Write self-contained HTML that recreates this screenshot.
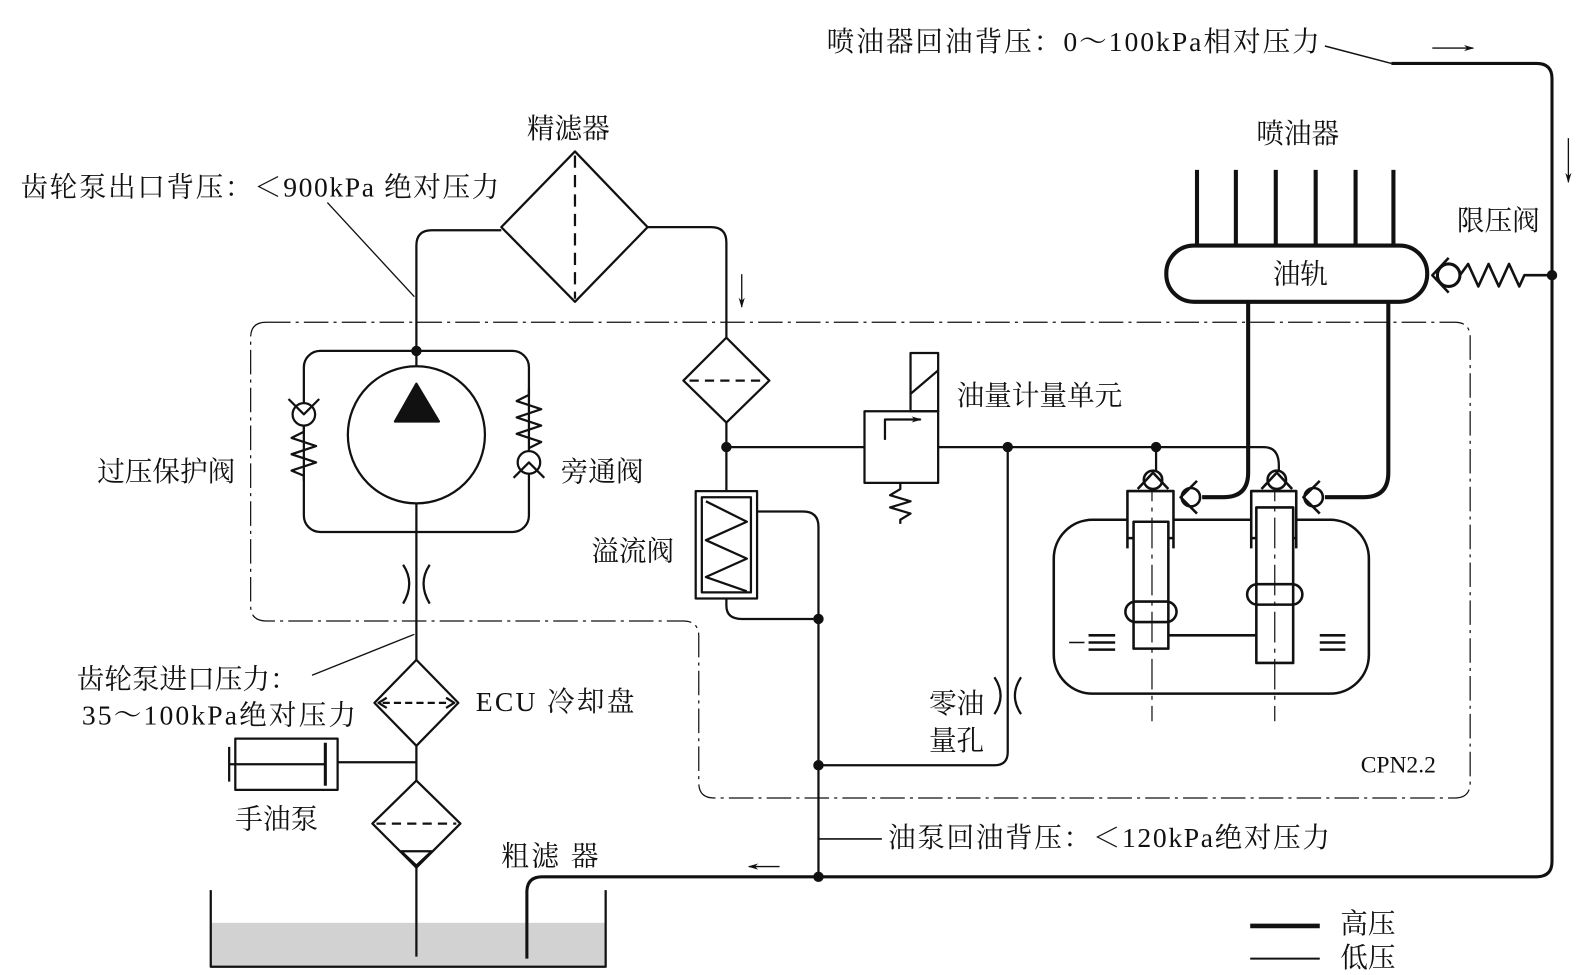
<!DOCTYPE html>
<html><head><meta charset="utf-8"><style>
html,body{margin:0;padding:0;background:#fff;}
svg{display:block;}
text{font-family:"Liberation Serif","Noto Serif CJK SC",serif;font-size:27px;fill:#111;}
</style></head><body>
<svg width="1596" height="975" viewBox="0 0 1560 953" xmlns="http://www.w3.org/2000/svg">
<defs><marker id="ah" markerWidth="10" markerHeight="8" refX="9" refY="4" orient="auto" markerUnits="userSpaceOnUse"><path d="M0,1 L10,4 L0,7 L3,4Z" fill="#111"/></marker></defs>
<g fill="none" stroke="#111" stroke-width="2.2" stroke-linejoin="round">
<rect x="206" y="902" width="386" height="43" fill="#d2d2d2" stroke="none"/>
<path d="M206,870 V945 H592 V870"/>
<path d="M1295,45 L1360,62" stroke-width="1.5"/>
<path d="M1360,62 H1502 Q1517,62 1517,77 V842 Q1517,857 1502,857 H530 Q515,857 515,872 V937" stroke-width="3"/>
<line x1="1400" y1="47" x2="1440" y2="47" stroke-width="1.3" marker-end="url(#ah)"/>
<line x1="1533" y1="135" x2="1533" y2="178" stroke-width="1.3" marker-end="url(#ah)"/>
<line x1="762" y1="847" x2="732" y2="847" stroke-width="1.3" marker-end="url(#ah)"/>
<line x1="725" y1="268" x2="725" y2="300" stroke-width="1.3" marker-end="url(#ah)"/>
<path d="M260,315 H1422 Q1437,315 1437,330 V765 Q1437,780 1422,780 H698 Q683,780 683,765 V622 Q683,607 668,607 H260 Q245,607 245,592 V330 Q245,315 260,315Z" stroke-width="1.2" stroke-dasharray="24 5 3 5"/>
<line x1="407" y1="935" x2="407" y2="848"/>
<path d="M407,763 L450,805 L407,848 L364,805Z"/>
<line x1="368" y1="805" x2="446" y2="805" stroke-dasharray="9 6"/>
<path d="M392,832 H422 L407,846Z"/>
<line x1="407" y1="763" x2="407" y2="729"/>
<line x1="330" y1="745" x2="407" y2="745"/>
<rect x="230" y="722" width="100" height="50"/>
<line x1="318" y1="726" x2="318" y2="768" stroke-width="3"/>
<line x1="224" y1="747" x2="318" y2="747"/>
<line x1="224" y1="730" x2="224" y2="764"/>
<path d="M407,645 L448,687 L407,729 L366,687Z"/>
<line x1="374" y1="687" x2="440" y2="687" stroke-dasharray="7 4"/>
<path d="M378,682 L370,687 L378,692 M436,682 L444,687 L436,692"/>
<line x1="407" y1="645" x2="407" y2="492"/>
<path d="M394,552 Q406,570 394,590 M420,552 Q408,570 420,590"/>
<rect x="297" y="343" width="220" height="177" rx="16"/>
<circle cx="407" cy="425" r="67"/>
<path d="M407,375 L386,412 L429,412Z" fill="#111"/>
<line x1="407" y1="343" x2="407" y2="358"/>
<circle cx="407" cy="343" r="4" fill="#111"/>
<circle cx="297" cy="405" r="11" fill="#fff"/>
<path d="M282,390 L297,405 L312,390"/>
<path d="M297,416 V422 L285,428 L309,436 L285,444 L309,452 L285,460 L297,465 V470"/>
<path d="M517,380 V386 L505,392 L529,400 L505,408 L529,416 L505,424 L529,432 L517,438"/>
<circle cx="517" cy="452" r="11" fill="#fff"/>
<path d="M502,467 L517,452 L532,467"/>
<path d="M407,343 V240 Q407,225 422,225 H490"/>
<path d="M562,148 L633,222 L562,295 L490,222Z"/>
<line x1="562" y1="152" x2="562" y2="292" stroke-dasharray="12 7"/>
<path d="M633,222 H695 Q710,222 710,237 V330"/>
<path d="M710,330 L752,372 L710,413 L668,372Z"/>
<line x1="674" y1="372" x2="746" y2="372" stroke-dasharray="9 6"/>
<line x1="710" y1="413" x2="710" y2="480"/>
<circle cx="710" cy="437" r="4" fill="#111"/>
<line x1="710" y1="437" x2="845" y2="437"/>
<rect x="845" y="402" width="72" height="70"/>
<rect x="890" y="345" width="27" height="57"/>
<line x1="890" y1="385" x2="917" y2="362"/>
<path d="M865,430 V410 H900" marker-end="url(#ah)"/>
<path d="M880,472 V478 L870,484 L890,490 L870,496 L890,502 L880,508 V512"/>
<path d="M917,437 H1235 Q1250,437 1250,455 V462"/>
<circle cx="985" cy="437" r="4" fill="#111"/>
<circle cx="1130" cy="437" r="4" fill="#111"/>
<line x1="1130" y1="437" x2="1130" y2="460"/>
<path d="M985,437 V735 Q985,748 972,748 H800"/>
<path d="M972,662 Q984,680 972,698 M998,662 Q986,680 998,698"/>
<rect x="680" y="480" width="60" height="105"/>
<rect x="686" y="486" width="48" height="93"/>
<path d="M690,490 L730,510 L690,528 L730,546 L690,564 L730,578"/>
<path d="M740,500 H785 Q800,500 800,515 V857"/>
<path d="M710,585 V592 Q710,605 725,605 H800"/>
<circle cx="800" cy="605" r="4" fill="#111"/>
<circle cx="800" cy="748" r="4" fill="#111"/>
<circle cx="800" cy="857" r="4" fill="#111"/>
<line x1="800" y1="820" x2="862" y2="820" stroke-width="1.5"/>
<rect x="1140" y="240" width="255" height="55" rx="27" stroke-width="4"/>
<g stroke-width="4">
<line x1="1170" y1="166" x2="1170" y2="240"/><line x1="1208" y1="166" x2="1208" y2="240"/><line x1="1247" y1="166" x2="1247" y2="240"/><line x1="1286" y1="166" x2="1286" y2="240"/><line x1="1325" y1="166" x2="1325" y2="240"/><line x1="1362" y1="166" x2="1362" y2="240"/>
<path d="M1220,295 V462 Q1220,486 1196,486 H1175"/>
<path d="M1357,295 V462 Q1357,486 1333,486 H1295"/>
</g>
<circle cx="1416" cy="269" r="11" stroke-width="3"/>
<path d="M1416,252 L1400,269 L1416,286" stroke-width="2.5"/>
<path d="M1427,269 L1435,258 L1445,280 L1455,258 L1465,280 L1475,258 L1485,280 L1490,269 H1517" stroke-width="2.5"/>
<circle cx="1517" cy="269" r="4" fill="#111"/>
<rect x="1030" y="508" width="308" height="170" rx="38" stroke-width="2.5"/>
<rect x="1102" y="480" width="45" height="46" fill="#fff" stroke-width="2.5"/>
<rect x="1108" y="510" width="34" height="124" fill="#fff" stroke-width="2.5"/>
<rect x="1223" y="480" width="44" height="46" fill="#fff" stroke-width="2.5"/>
<rect x="1228" y="496" width="36" height="152" fill="#fff" stroke-width="2.5"/>
<line x1="1102" y1="526" x2="1102" y2="536" stroke-width="2.5"/><line x1="1147" y1="526" x2="1147" y2="536" stroke-width="2.5"/>
<line x1="1223" y1="526" x2="1223" y2="536" stroke-width="2.5"/><line x1="1267" y1="526" x2="1267" y2="536" stroke-width="2.5"/>
<rect x="1100" y="588" width="50" height="20" rx="10" stroke-width="2.5"/>
<rect x="1219" y="571" width="54" height="20" rx="10" stroke-width="2.5"/>
<line x1="1142" y1="621" x2="1228" y2="621" stroke-width="2.5"/>
<line x1="1045" y1="628" x2="1060" y2="628" stroke-width="1.5"/>
<g stroke-width="2.5"><line x1="1064" y1="621" x2="1090" y2="621"/><line x1="1064" y1="628" x2="1090" y2="628"/><line x1="1064" y1="635" x2="1090" y2="635"/>
<line x1="1290" y1="621" x2="1315" y2="621"/><line x1="1290" y1="628" x2="1315" y2="628"/><line x1="1290" y1="635" x2="1315" y2="635"/></g>
<line x1="1126" y1="460" x2="1126" y2="705" stroke-width="1.2" stroke-dasharray="30 6 4 6"/>
<line x1="1246" y1="460" x2="1246" y2="705" stroke-width="1.2" stroke-dasharray="30 6 4 6"/>
<g stroke-width="2.5">
<circle cx="1127" cy="469" r="9" fill="#fff"/><path d="M1112,478 L1127,462 L1142,478"/>
<circle cx="1248" cy="469" r="9" fill="#fff"/><path d="M1233,478 L1248,462 L1263,478"/>
<circle cx="1164" cy="486" r="9" fill="#fff"/><path d="M1170,470 L1154,486 L1170,502"/>
<circle cx="1284" cy="486" r="9" fill="#fff"/><path d="M1290,470 L1274,486 L1290,502"/>
</g>
<line x1="320" y1="198" x2="405" y2="290" stroke-width="1.3"/>
<line x1="305" y1="660" x2="405" y2="620" stroke-width="1.3"/>
<line x1="1222" y1="905" x2="1290" y2="905" stroke-width="4.5"/>
<line x1="1222" y1="937" x2="1290" y2="937" stroke-width="2"/>
</g>
<text x="808" y="50" textLength="482">喷油器回油背压：0～100kPa相对压力</text>
<text x="515" y="135">精滤器</text>
<text x="1228" y="140">喷油器</text>
<text x="1424" y="225">限压阀</text>
<text x="1244" y="277">油轨</text>
<text x="20" y="192" textLength="468">齿轮泵出口背压：＜900kPa 绝对压力</text>
<text x="95" y="470">过压保护阀</text>
<text x="548" y="470">旁通阀</text>
<text x="578" y="548">溢流阀</text>
<text x="935" y="396">油量计量单元</text>
<text x="75" y="673">齿轮泵进口压力：</text>
<text x="80" y="708" textLength="268">35～100kPa绝对压力</text>
<text x="465" y="695" textLength="155">ECU 冷却盘</text>
<text x="230" y="810">手油泵</text>
<text x="490" y="846" textLength="95">粗滤 器</text>
<text x="908" y="697">零油</text>
<text x="908" y="733">量孔</text>
<text x="1330" y="755" style="font-size:23px">CPN2.2</text>
<text x="868" y="828" textLength="432">油泵回油背压：＜120kPa绝对压力</text>
<text x="1310" y="912">高压</text>
<text x="1310" y="945">低压</text>
</svg>
</body></html>
